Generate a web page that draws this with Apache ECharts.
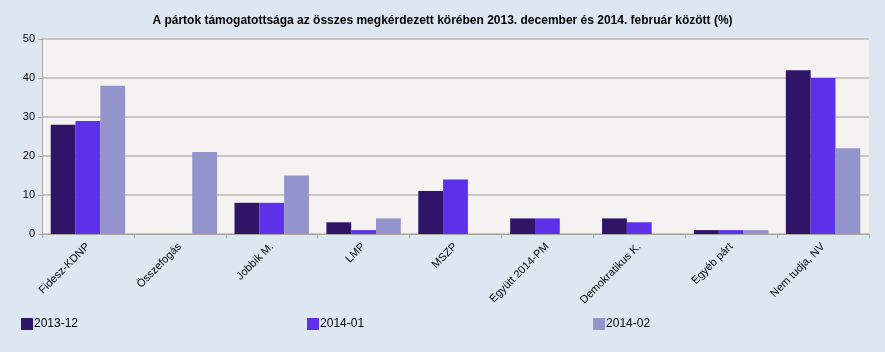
<!DOCTYPE html>
<html><head><meta charset="utf-8">
<script src="https://cdn.jsdelivr.net/npm/echarts@6/dist/echarts.min.js"></script>
<style>html,body{margin:0;padding:0;background:#fff;}#c{width:885px;height:352px;}</style>
</head><body><div id="c"></div>
<script>
const categories = ['Fidesz-KDNP','Összefogás','Jobbik M.','LMP','MSZP','Együtt 2014-PM','Demokratikus K.','Egyéb párt','Nem tudja, NV'];
const s201312 = [28, 0, 8, 3, 11, 4, 4, 1, 42];
const s201401 = [29, 0, 8, 1, 14, 4, 3, 1, 40];
const s201402 = [38, 21, 15, 4, 0, 0, 0, 1, 22];
const seriesNames = ['2013-12','2014-01','2014-02'];
const colors = ['#2f1468','#5d30e9','#9494cc'];
const titleText = 'A pártok támogatottsága az összes megkérdezett körében 2013. december és 2014. február között (%)';

const chart = echarts.init(document.getElementById('c'));
const mk = (name, data, i) => ({
  name, type: 'bar', data, barGap: '0%', barCategoryGap: '19%',
  itemStyle: { color: colors[i] }, emphasis: { disabled: true }
});
chart.setOption({
  backgroundColor: '#dde7f1',
  animation: false,
  title: {
    text: titleText, left: 'center', top: 10,
    textStyle: { fontFamily: '"Liberation Sans", Arial', fontWeight: 'bold', fontSize: 12, color: '#000' }
  },
  legend: {
    data: seriesNames, left: 16, top: 313, itemGap: 229, itemWidth: 12, itemHeight: 12,
    icon: 'rect', textStyle: { fontFamily: '"Liberation Sans", Arial', fontSize: 12, color: '#000', padding: [0,0,0,-4] }
  },
  grid: { left: 42, right: 16, top: 39, bottom: 118, show: true, backgroundColor: '#f5f3f1', borderWidth: 0 },
  xAxis: {
    type: 'category', data: categories,
    axisLine: { lineStyle: { color: '#aaa4a2', width: 1 } },
    axisTick: { show: true, length: 4, lineStyle: { color: '#aaa4a2' } },
    axisLabel: { rotate: 45, fontFamily: '"Liberation Sans", Arial', fontSize: 11, color: '#000', margin: 11, interval: 0 }
  },
  yAxis: {
    type: 'value', min: 0, max: 50, interval: 10,
    axisLine: { show: true, lineStyle: { color: '#aaa4a2' } },
    axisTick: { show: true, length: 4, lineStyle: { color: '#aaa4a2' } },
    splitLine: { lineStyle: { color: '#cbc4c0', width: 2 } },
    axisLabel: { fontFamily: '"Liberation Sans", Arial', fontSize: 11, color: '#000', margin: 7 }
  },
  series: [mk(seriesNames[0], s201312, 0), mk(seriesNames[1], s201401, 1), mk(seriesNames[2], s201402, 2)]
});
</script></body></html>
